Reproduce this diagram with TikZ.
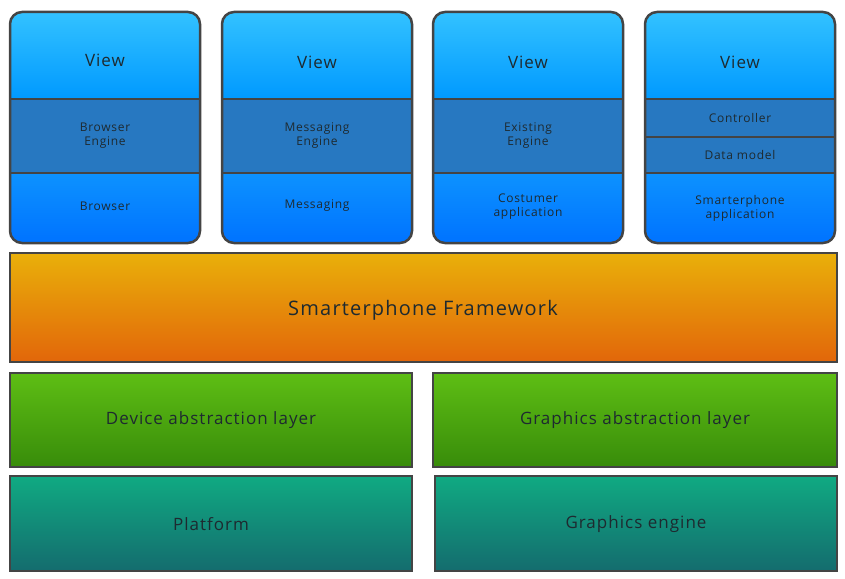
\documentclass[tikz,border=0pt]{standalone}
\usepackage{fontspec}
\setmainfont[LetterSpace=6]{Open Sans}
\usetikzlibrary{positioning}
\definecolor{edge}{HTML}{444444}
\definecolor{txt}{HTML}{1E2A30}
\tikzset{
  lbl/.style={text=txt, align=center, font=\fontsize{12}{14}\selectfont},
  big/.style={text=txt, align=center, font=\fontsize{17}{20}\selectfont},
  seg/.style={draw=edge, line width=2.5pt},
  layerbox/.style={draw=edge, line width=2.5pt}
}
\newcommand{\appcol}[1]{%
  \begin{scope}
    \clip[rounded corners=12pt] (#1,12) rectangle ++(190,231);
    \shade[top color=cyan!70!blue!80!white, bottom color=cyan!60!blue] (#1,12) rectangle ++(190,87);
    \fill[cyan!55!blue!95!black!95] (#1,99) rectangle ++(190,74);
    \shade[top color=blue!45!cyan!95!white, bottom color=blue!55!cyan] (#1,173) rectangle ++(190,70);
  \end{scope}
  \draw[seg] (#1,99) -- ++(190,0) (#1,173) -- ++(190,0);
  \draw[seg, rounded corners=12pt] (#1,12) rectangle ++(190,231);
}
\begin{document}
\begin{tikzpicture}[x=1pt,y=-1pt]
\useasboundingbox (0,0) rectangle (845,578);
% application columns
\foreach \cx in {10,222,433,645} {\appcol{\cx}}
\draw[seg] (645,137) -- ++(190,0);
\node[big] (v1) at (105,60) {View};
\node[big] (v2) at (317,62) {View};
\node[big] (v3) at (528,62) {View};
\node[big] (v4) at (740,62) {View};
\node[lbl] (be) at (105,136) {Browser\\Engine};
\node[lbl] (me) at (317,136) {Messaging\\Engine};
\node[lbl] (ee) at (528,136) {Existing\\Engine};
\node[lbl] (ct) at (740,118) {Controller};
\node[lbl] (dm) at (740,155) {Data model};
\node[lbl] (br) at (105,206) {Browser};
\node[lbl] (ms) at (317,206) {Messaging};
\node[lbl] (ca) at (528,207) {Costumer\\application};
\node[lbl] (sa) at (740,208) {Smarterphone\\application};
% framework
\shade[layerbox, top color={rgb,255:red,233;green,176;blue,10}, bottom color={rgb,255:red,226;green,102;blue,10}] (10,253) rectangle (837,362);
\node[big, font=\fontsize{20}{24}\selectfont] (fw) at (423,310) {Smarterphone Framework};
% abstraction layers
\shade[layerbox, top color={rgb,255:red,94;green,190;blue,20}, bottom color={rgb,255:red,56;green,140;blue,10}] (10,373) rectangle (412,467);
\shade[layerbox, top color={rgb,255:red,94;green,190;blue,20}, bottom color={rgb,255:red,56;green,140;blue,10}] (433,373) rectangle (837,467);
\node[big] (dal) at (211,420) {Device abstraction layer};
\node[big] (gal) at (635,420) {Graphics abstraction layer};
% platform
\shade[layerbox, top color={rgb,255:red,16;green,170;blue,130}, bottom color={rgb,255:red,20;green,108;blue,110}] (10,476) rectangle (412,571);
\shade[layerbox, top color={rgb,255:red,16;green,170;blue,130}, bottom color={rgb,255:red,20;green,108;blue,110}] (435,476) rectangle (837,571);
\node[big] (pf) at (211,524) {Platform};
\node[big] (ge) at (636,524) {Graphics engine};
\end{tikzpicture}
\end{document}
